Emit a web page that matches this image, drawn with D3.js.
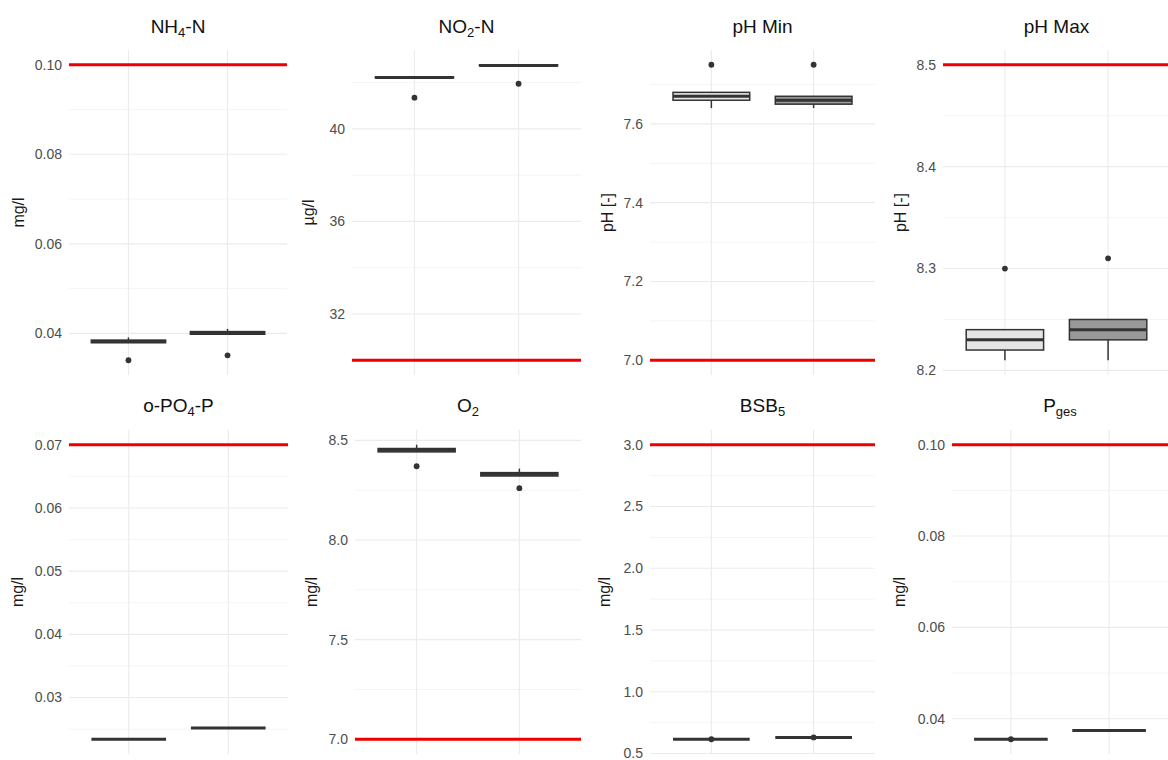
<!DOCTYPE html>
<html>
<head>
<meta charset="utf-8">
<script src="https://cdn.jsdelivr.net/npm/d3@7"></script>
<style>
  html, body { margin: 0; padding: 0; background: #ffffff; }
  svg { display: block; }
  text { font-family: "Liberation Sans", Arial, Helvetica, sans-serif; }
</style>
</head>
<body>
<svg id="chart" width="1168" height="760"></svg>
<script>
// ---- Data -------------------------------------------------------------
// Panel titles: pieces alternate between normal text and subscript text.
const titleParts = [
  ["NH", "4", "-N"], ["NO", "2", "-N"], ["pH Min"], ["pH Max"],
  ["o-PO", "4", "-P"], ["O", "2"], ["BSB", "5"], ["P", "ges"]
];
const unitLabels = ["mg/l", "µg/l", "pH [-]", "pH [-]", "mg/l", "mg/l", "mg/l", "mg/l"];

// Two sampling groups per panel
const groups = ["A", "B"];

// Threshold / limit value drawn as a red reference line
const limitValues = [0.10, 30, 7.0, 8.5, 0.07, 7.0, 3.0, 0.10];

// Y tick labels per panel
const yTickLabels = [
  ["0.04", "0.06", "0.08", "0.10"],
  ["32", "36", "40"],
  ["7.0", "7.2", "7.4", "7.6"],
  ["8.2", "8.3", "8.4", "8.5"],
  ["0.03", "0.04", "0.05", "0.06", "0.07"],
  ["7.0", "7.5", "8.0", "8.5"],
  ["0.5", "1.0", "1.5", "2.0", "2.5", "3.0"],
  ["0.04", "0.06", "0.08", "0.10"]
];

// Box statistics per panel, [group A, group B]
const whiskerLow = [
  [0.0379, 0.0398], [42.20, 42.72], [7.64, 7.64], [8.21, 8.21],
  [0.0234, 0.0252], [8.442, 8.321], [0.615, 0.63], [0.0355, 0.0374]
];
const q1 = [
  [0.0379, 0.0398], [42.20, 42.72], [7.66, 7.65], [8.22, 8.23],
  [0.0234, 0.0252], [8.442, 8.321], [0.615, 0.63], [0.0355, 0.0374]
];
const median = [
  [0.0382, 0.0401], [42.22, 42.74], [7.67, 7.66], [8.23, 8.24],
  [0.0234, 0.0252], [8.450, 8.330], [0.615, 0.63], [0.0355, 0.0374]
];
const q3 = [
  [0.0385, 0.0404], [42.25, 42.77], [7.68, 7.67], [8.24, 8.25],
  [0.0234, 0.0252], [8.459, 8.338], [0.615, 0.63], [0.0355, 0.0374]
];
const whiskerHigh = [
  [0.0391, 0.0410], [42.25, 42.77], [7.68, 7.67], [8.24, 8.25],
  [0.0234, 0.0252], [8.478, 8.358], [0.615, 0.63], [0.0358, 0.0374]
];
const outliers = [
  [[0.0340], [0.0351]], [[41.35], [41.95]], [[7.75], [7.75]], [[8.30], [8.31]],
  [[], []], [[8.37], [8.26]], [[0.615], [0.63]], [[0.0355], []]
];

// ---- Layout & style ---------------------------------------------------
const panelX = [[69, 287], [352, 581], [650, 875], [943, 1170],
                [69, 288], [355, 581], [650, 875], [952, 1168]];
const rowY = [[50, 375], [430, 754]];
const unitX = [24, 314, 613, 906, 23, 317, 610, 905];
const titleBaseline = [33, 412];
const groupFill = ["#e5e5e5", "#999999"];
const ink = "#333333";

const svg = d3.select("#chart");

titleParts.forEach((parts, i) => {
  const row = i < 4 ? 0 : 1;
  const [x0, x1] = panelX[i];
  const [y0, y1] = rowY[row];

  // y scale: data range (incl. reference line) with 5% expansion
  const allValues = [limitValues[i], ...whiskerLow[i], ...whiskerHigh[i], ...outliers[i].flat()];
  const [mn, mx] = d3.extent(allValues);
  const pad = (mx - mn) * 0.05;
  const y = d3.scaleLinear().domain([mn - pad, mx + pad]).range([y1, y0]);

  // discrete x positions with 0.6 category expansion on each side
  const x = d3.scalePoint().domain(groups).range([x0, x1]).padding(0.6);
  const boxW = x.step() * 0.75;

  const g = svg.append("g");
  const clipId = "clip" + i;
  g.append("clipPath").attr("id", clipId)
    .append("rect").attr("x", x0).attr("y", y0).attr("width", x1 - x0).attr("height", y1 - y0);
  const panel = g.append("g").attr("clip-path", `url(#${clipId})`);

  // grid lines
  const ticks = yTickLabels[i].map(Number);
  const [dLo, dHi] = y.domain();
  const step = ticks[1] - ticks[0];
  const minor = [ticks[0] - step / 2, ...ticks.map(t => t + step / 2)]
    .filter(v => v > dLo && v < dHi);
  panel.selectAll(".minor").data(minor).join("line")
    .attr("x1", x0).attr("x2", x1)
    .attr("y1", d => y(d)).attr("y2", d => y(d))
    .attr("stroke", "#f1f1f1").attr("stroke-width", 0.8);
  panel.selectAll(".major").data(ticks).join("line")
    .attr("x1", x0).attr("x2", x1)
    .attr("y1", d => y(d)).attr("y2", d => y(d))
    .attr("stroke", "#ebebeb").attr("stroke-width", 1.1);
  panel.selectAll(".vgrid").data(groups).join("line")
    .attr("x1", d => x(d)).attr("x2", d => x(d))
    .attr("y1", y0).attr("y2", y1)
    .attr("stroke", "#ebebeb").attr("stroke-width", 1.1);

  // boxplots
  groups.forEach((grp, k) => {
    const cx = x(grp);
    const bg = panel.append("g");
    bg.append("line")
      .attr("x1", cx).attr("x2", cx)
      .attr("y1", y(whiskerLow[i][k])).attr("y2", y(q1[i][k]))
      .attr("stroke", ink).attr("stroke-width", 1.5);
    bg.append("line")
      .attr("x1", cx).attr("x2", cx)
      .attr("y1", y(q3[i][k])).attr("y2", y(whiskerHigh[i][k]))
      .attr("stroke", ink).attr("stroke-width", 1.5);
    bg.append("rect")
      .attr("x", cx - boxW / 2).attr("width", boxW)
      .attr("y", y(q3[i][k])).attr("height", Math.max(0, y(q1[i][k]) - y(q3[i][k])))
      .attr("fill", groupFill[k]).attr("stroke", ink).attr("stroke-width", 1.5);
    bg.append("line")
      .attr("x1", cx - boxW / 2).attr("x2", cx + boxW / 2)
      .attr("y1", y(median[i][k])).attr("y2", y(median[i][k]))
      .attr("stroke", ink).attr("stroke-width", 3);
    bg.selectAll("circle").data(outliers[i][k]).join("circle")
      .attr("cx", cx).attr("cy", d => y(d)).attr("r", 2.9)
      .attr("fill", ink);
  });

  // reference line
  panel.append("line")
    .attr("x1", x0).attr("x2", x1)
    .attr("y1", y(limitValues[i])).attr("y2", y(limitValues[i]))
    .attr("stroke", "#ee0000").attr("stroke-width", 3);

  // y tick labels
  g.selectAll(".tick").data(yTickLabels[i]).join("text")
    .attr("x", x0 - 7).attr("y", d => y(+d)).attr("dy", "0.35em")
    .attr("text-anchor", "end").attr("font-size", 14).attr("fill", "#4d4d4d")
    .text(d => d);

  // y axis title
  g.append("text")
    .attr("transform", `translate(${unitX[i]},${(y0 + y1) / 2}) rotate(-90)`)
    .attr("text-anchor", "middle").attr("font-size", 16).attr("fill", "#1a1a1a")
    .text(unitLabels[i]);

  // panel title with subscripts
  const t = g.append("text")
    .attr("x", (x0 + x1) / 2).attr("y", titleBaseline[row])
    .attr("text-anchor", "middle").attr("font-size", 19).attr("fill", "#111");
  parts.forEach((p, j) => {
    const sub = j % 2 === 1;
    const ts = t.append("tspan").text(p);
    if (sub) ts.attr("font-size", 13).attr("dy", 4);
    else if (j > 0) ts.attr("dy", -4);
  });
});
</script>
</body>
</html>
